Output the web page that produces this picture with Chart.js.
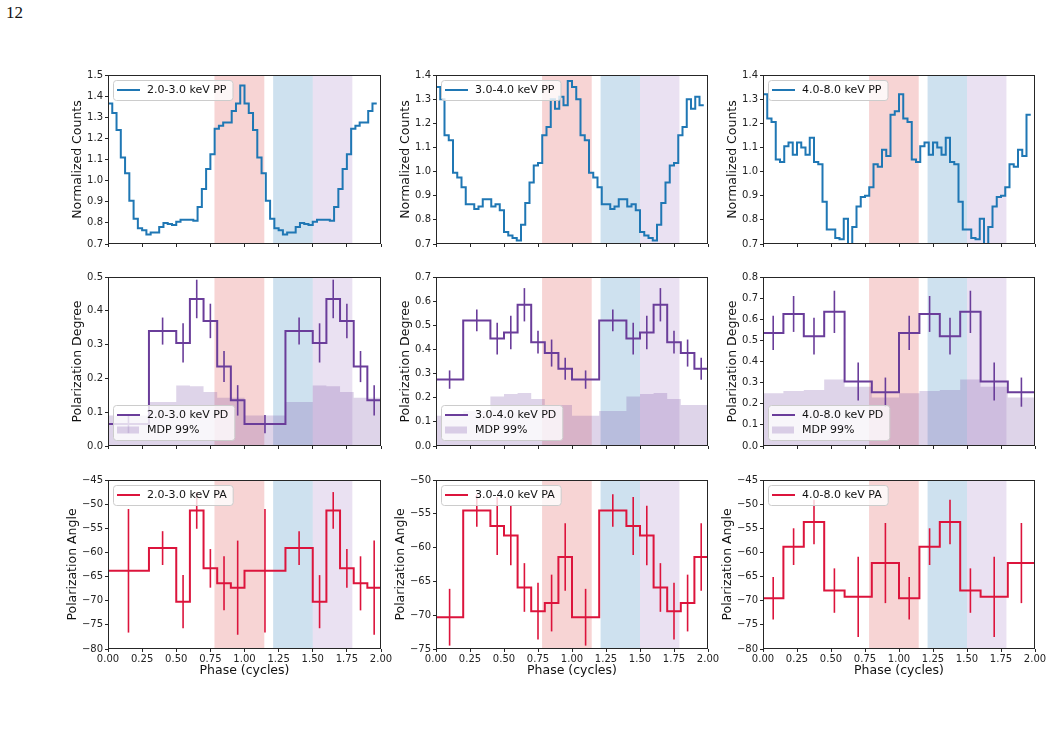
<!DOCTYPE html>
<html>
<head>
<meta charset="utf-8">
<script src="https://cdn.jsdelivr.net/npm/chart.js@4.4.0/dist/chart.umd.min.js"></script>
<style>
body { margin: 0; background: #fff; width: 1053px; height: 735px; position: relative; overflow: hidden; }
canvas { position: absolute; }
#pagenum { position: absolute; left: 6px; top: 3px; font-family: "Liberation Serif", serif; font-size: 17px; color: #111; }
</style>
</head>
<body>
<div id="pagenum">12</div>
<script>
// energy bands, one column each
const bands = ['2.0-3.0 keV', '3.0-4.0 keV', '4.0-8.0 keV'];

// pulse profile, 32 phase bins per cycle (plotted twice)
const pp23 = [1.365, 1.32, 1.24, 1.11, 1.035, 0.905, 0.82, 0.775, 0.765, 0.745, 0.755, 0.755, 0.78, 0.80, 0.795, 0.79,
              0.805, 0.815, 0.815, 0.815, 0.81, 0.875, 0.96, 1.055, 1.125, 1.245, 1.26, 1.275, 1.275, 1.33, 1.365, 1.45];
const pp34 = [1.35, 1.30, 1.15, 1.13, 0.995, 0.975, 0.935, 0.865, 0.865, 0.845, 0.855, 0.885, 0.885, 0.855, 0.865, 0.84,
              0.75, 0.735, 0.725, 0.715, 0.78, 0.87, 0.955, 1.025, 1.035, 1.15, 1.185, 1.30, 1.26, 1.31, 1.275, 1.375];
const pp48 = [1.32, 1.22, 1.205, 1.05, 1.04, 1.105, 1.12, 1.07, 1.12, 1.10, 1.07, 1.14, 1.04, 1.03, 0.875, 0.76,
              0.76, 0.725, 0.72, 0.805, 0.70, 0.77, 0.855, 0.895, 0.90, 0.935, 1.03, 1.02, 1.09, 1.065, 1.235, 1.25];

// polarization phase bins (edges of one cycle)
const edges23 = [0, 0.3, 0.5, 0.6, 0.7, 0.8, 0.9, 1.0];
const edges34 = [0, 0.2, 0.4, 0.5, 0.6, 0.7, 0.8, 0.9, 1.0];
const edges48 = [0, 0.15, 0.3, 0.45, 0.6, 0.8, 1.0];

const pd23 = [0.065, 0.34, 0.305, 0.435, 0.37, 0.235, 0.135];
const pdErr23 = [0.027, 0.04, 0.058, 0.057, 0.051, 0.046, 0.045];
const mdp23 = [0.09, 0.13, 0.179, 0.177, 0.16, 0.143, 0.143];
const pa23 = [-63.8, -59.1, -70.2, -51.3, -63.3, -66.4, -67.3];
const paErr23 = [12.8, 3.5, 5.5, 3.8, 4.0, 5.6, 9.75];

const pd34 = [0.275, 0.52, 0.445, 0.47, 0.585, 0.43, 0.385, 0.32];
const pdErr34 = [0.038, 0.045, 0.066, 0.069, 0.069, 0.047, 0.056, 0.046];
const mdp34 = [0.125, 0.145, 0.205, 0.215, 0.22, 0.195, 0.17, 0.17];
const pa34 = [-70.3, -54.5, -56.8, -58.2, -65.9, -69.4, -68.2, -61.4];
const paErr34 = [4.2, 2.4, 4.3, 4.4, 3.6, 4.2, 4.2, 5.0];

const pd48 = [0.535, 0.625, 0.52, 0.635, 0.305, 0.255];
const pdErr48 = [0.081, 0.085, 0.087, 0.10, 0.09, 0.069];
const mdp48 = [0.25, 0.26, 0.265, 0.315, 0.28, 0.23];
const pa48 = [-69.5, -58.8, -53.7, -67.9, -69.2, -62.2];
const paErr48 = [4.4, 3.8, 4.6, 4.6, 8.3, 8.3];

// shaded phase intervals
const spanStart = [0.78, 1.21, 1.50];
const spanEnd = [1.145, 1.50, 1.79];
const spanColors = ['rgba(214,39,40,0.2)', 'rgba(31,119,180,0.22)', 'rgba(148,103,189,0.2)'];

// axis ranges per column
const ppRange = [[0.7, 1.5], [0.7, 1.4], [0.7, 1.4]];
const pdRange = [[0, 0.5], [0, 0.7], [0, 0.8]];
const paRange = [[-80, -45], [-75, -50], [-80, -45]];

const ppColor = '#1f77b4';
const pdColor = '#6a3d9a';
const mdpColor = 'rgba(106,61,154,0.22)';
const paColor = '#dc143c';

// layout
const plotLeft = [108, 436, 763];
const plotWidth = [273, 272, 272];
const plotTop = [75, 277, 480];
const PLOT_H = 169;
const AXIS_W = 62, PAD_T = 12, PAD_R = 22, AXIS_H = 45;
const FONT = '"DejaVu Sans", sans-serif';
const LINE_W = 2;

Chart.defaults.font.family = FONT;
Chart.defaults.color = '#222';

function ppPoints(vals) {
    const n = vals.length;
    const pts = [{x: 0, y: vals[n - 1]}];
    for (let k = 1; k < 2 * n; k++) pts.push({x: k / n, y: vals[(k - 1) % n]});
    return pts;
}
function stepPoints(edges, vals) {
    const pts = [{x: edges[0], y: vals[0]}];
    [0, 1].forEach(c => vals.forEach((v, i) => pts.push({x: c + edges[i + 1], y: v})));
    return pts;
}
function errPoints(edges, vals) {
    const pts = [{x: 0, y: vals[0]}];
    [0, 1].forEach(c => vals.forEach((v, i) => pts.push({x: c + (edges[i] + edges[i + 1]) / 2, y: v})));
    return pts;
}
function errList(errs) { return [errs[0]].concat(errs, errs); }

const spanPlugin = {
    id: 'phaseSpans',
    beforeDatasetsDraw(chart) {
        const {ctx, chartArea: a, scales: {x}} = chart;
        ctx.save();
        spanStart.forEach((s, i) => {
            const x0 = x.getPixelForValue(s), x1 = x.getPixelForValue(spanEnd[i]);
            ctx.fillStyle = spanColors[i];
            ctx.fillRect(x0, a.top, x1 - x0, a.bottom - a.top);
        });
        ctx.restore();
    }
};

const errorBarPlugin = {
    id: 'errorBars',
    afterDatasetsDraw(chart) {
        const {ctx, chartArea: a, scales: {x, y}} = chart;
        ctx.save();
        ctx.beginPath();
        ctx.rect(a.left, a.top, a.right - a.left, a.bottom - a.top);
        ctx.clip();
        chart.data.datasets.forEach(ds => {
            if (!ds.yErr) return;
            ctx.strokeStyle = ds.borderColor;
            ctx.lineWidth = 1.6;
            ds.data.forEach((p, i) => {
                const px = x.getPixelForValue(p.x);
                ctx.beginPath();
                ctx.moveTo(px, y.getPixelForValue(p.y - ds.yErr[i]));
                ctx.lineTo(px, y.getPixelForValue(p.y + ds.yErr[i]));
                ctx.stroke();
            });
        });
        ctx.restore();
    }
};

const framePlugin = {
    id: 'frame',
    afterDatasetsDraw(chart) {
        const {ctx, chartArea: a} = chart;
        ctx.save();
        ctx.strokeStyle = '#262626';
        ctx.lineWidth = 1;
        ctx.strokeRect(Math.round(a.left) + 0.5, Math.round(a.top) + 0.5,
                       Math.round(a.right - a.left) - 1, Math.round(a.bottom - a.top) - 1);
        ctx.restore();
    }
};

const legendPlugin = {
    id: 'insideLegend',
    afterDraw(chart, args, opts) {
        const {ctx, chartArea: a} = chart;
        const items = chart.data.datasets.filter(ds => ds.label);
        ctx.save();
        ctx.font = '11px ' + FONT;
        const textW = Math.max(...items.map(ds => ctx.measureText(ds.label).width));
        const rowH = 15;
        const boxW = 34 + textW + 6, boxH = 5 + items.length * rowH;
        const bx = a.left + 5;
        const by = opts.corner === 'top' ? a.top + 5 : a.bottom - 6 - boxH;
        ctx.beginPath();
        if (ctx.roundRect) ctx.roundRect(bx + 0.5, by + 0.5, boxW, boxH, 3); else ctx.rect(bx + 0.5, by + 0.5, boxW, boxH);
        ctx.fillStyle = 'rgba(255,255,255,0.8)';
        ctx.fill();
        ctx.strokeStyle = '#cccccc';
        ctx.lineWidth = 1;
        ctx.stroke();
        items.forEach((ds, i) => {
            const cy = by + 10 + i * rowH;
            if (ds.legendKind === 'patch') {
                ctx.fillStyle = ds.backgroundColor;
                ctx.fillRect(bx + 4, cy - 3.5, 22, 7);
            } else {
                ctx.strokeStyle = ds.borderColor;
                ctx.lineWidth = LINE_W;
                ctx.beginPath();
                ctx.moveTo(bx + 4, cy);
                ctx.lineTo(bx + 27, cy);
                ctx.stroke();
            }
            ctx.fillStyle = '#111';
            ctx.textBaseline = 'middle';
            ctx.fillText(ds.label, bx + 34, cy + 0.5);
        });
        ctx.restore();
    }
};

function panel(col, row, datasets, range, yStep, yTitle, yFmt, corner) {
    const cv = document.createElement('canvas');
    cv.width = AXIS_W + plotWidth[col] + PAD_R;
    cv.height = PAD_T + PLOT_H + AXIS_H;
    cv.style.left = (plotLeft[col] - AXIS_W) + 'px';
    cv.style.top = (plotTop[row] - PAD_T) + 'px';
    document.body.appendChild(cv);
    const bottomRow = row === 2;
    const titleOffset = bottomRow ? 35 : 30;
    new Chart(cv.getContext('2d'), {
        type: 'line',
        data: {datasets},
        options: {
            responsive: false,
            animation: false,
            devicePixelRatio: 1,
            events: [],
            layout: {padding: {left: 0, top: PAD_T, right: PAD_R, bottom: 0}},
            elements: {point: {radius: 0}, line: {tension: 0}},
            plugins: {legend: {display: false}, tooltip: {enabled: false}, insideLegend: {corner}},
            scales: {
                x: {
                    type: 'linear', min: 0, max: 2,
                    afterFit(s) { s.height = AXIS_H; s.paddingLeft = 0; s.paddingRight = 0; },
                    border: {display: false},
                    grid: {drawOnChartArea: false, drawTicks: true, tickLength: 3, color: '#262626'},
                    ticks: {
                        display: bottomRow, stepSize: 0.25, autoSkip: false, maxRotation: 0,
                        padding: 1, font: {size: 10}, color: '#222',
                        callback: v => v.toFixed(2)
                    },
                    title: {
                        display: bottomRow, text: 'Phase (cycles)', color: '#111',
                        font: {size: 12.5}, padding: {top: 0, bottom: 15.5}
                    }
                },
                y: {
                    min: range[0], max: range[1],
                    afterFit(s) { s.width = AXIS_W; s.paddingTop = 0; s.paddingBottom = 0; },
                    border: {display: false},
                    grid: {drawOnChartArea: false, drawTicks: true, tickLength: 3, color: '#262626'},
                    ticks: {stepSize: yStep, autoSkip: false, padding: 2, font: {size: 10}, color: '#222', callback: yFmt},
                    title: {
                        display: true, text: yTitle, color: '#111',
                        font: {size: 12.5}, padding: {top: AXIS_W - titleOffset - 7.5, bottom: 0}
                    }
                }
            }
        },
        plugins: [spanPlugin, errorBarPlugin, framePlugin, legendPlugin]
    });
}

const ppVals = [pp23, pp34, pp48];
const edges = [edges23, edges34, edges48];
const pdVals = [pd23, pd34, pd48];
const pdErrs = [pdErr23, pdErr34, pdErr48];
const mdpVals = [mdp23, mdp34, mdp48];
const paVals = [pa23, pa34, pa48];
const paErrs = [paErr23, paErr34, paErr48];

const fmt1 = v => v.toFixed(1);
const fmtAngle = v => (v < 0 ? '\u2212' : '') + Math.abs(Math.round(v));

for (let c = 0; c < 3; c++) {
    panel(c, 0, [{
        label: bands[c] + ' PP', data: ppPoints(ppVals[c]), borderColor: ppColor,
        borderWidth: LINE_W, stepped: 'after', fill: false, legendKind: 'line'
    }], ppRange[c], 0.1, 'Normalized Counts', fmt1, 'top');

    panel(c, 1, [{
        label: bands[c] + ' PD', data: stepPoints(edges[c], pdVals[c]), borderColor: pdColor,
        borderWidth: LINE_W, stepped: 'after', fill: false, legendKind: 'line'
    }, {
        data: errPoints(edges[c], pdVals[c]), yErr: errList(pdErrs[c]), borderColor: pdColor, showLine: false
    }, {
        label: 'MDP 99%', data: stepPoints(edges[c], mdpVals[c]), borderColor: 'rgba(0,0,0,0)', borderWidth: 0,
        backgroundColor: mdpColor, stepped: 'after', fill: 'origin', legendKind: 'patch'
    }], pdRange[c], 0.1, 'Polarization Degree', fmt1, 'bottom');

    panel(c, 2, [{
        label: bands[c] + ' PA', data: stepPoints(edges[c], paVals[c]), borderColor: paColor,
        borderWidth: LINE_W, stepped: 'after', fill: false, legendKind: 'line'
    }, {
        data: errPoints(edges[c], paVals[c]), yErr: errList(paErrs[c]), borderColor: paColor, showLine: false
    }], paRange[c], 5, 'Polarization Angle', fmtAngle, 'top');
}
</script>
</body>
</html>
